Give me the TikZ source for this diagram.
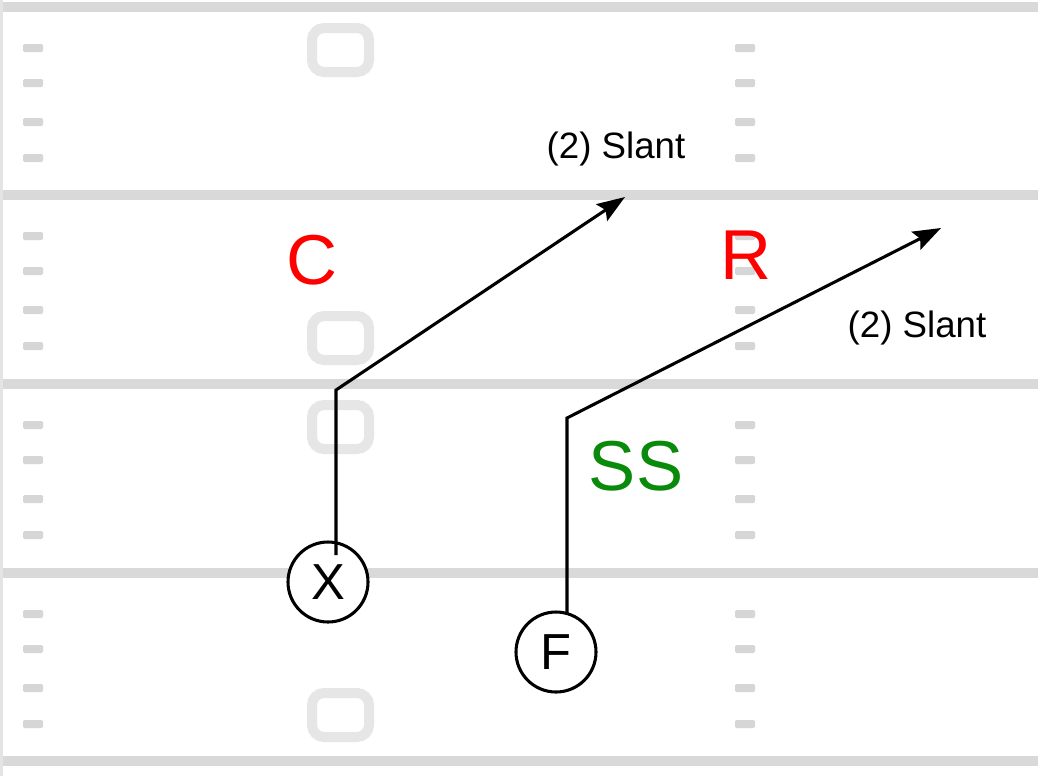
\documentclass[tikz,border=0pt]{standalone}
\usepackage{fontspec}
\setmainfont{Liberation Sans}
\usetikzlibrary{arrows.meta}
\definecolor{bandgray}{HTML}{D9D9D9}
\definecolor{numgray}{HTML}{E6E6E6}
\definecolor{markgray}{HTML}{D6D6D6}
\definecolor{ssgreen}{HTML}{0A8A0A}
\begin{document}
\begin{tikzpicture}[x=0.75pt,y=-0.75pt,
  band/.style={draw=bandgray,line width=7.5pt},
  numbox/.style={draw=numgray,line width=7.5pt,rounded corners=9pt},
  hashmark/.style={fill=markgray,rounded corners=1pt},
  player/.style={circle,draw=black,line width=2.3pt,fill=white,minimum size=60pt,inner sep=0pt,font=\fontsize{38}{38}\selectfont},
  defender/.style={font=\fontsize{53}{53}\selectfont},
  routelabel/.style={font=\fontsize{27.5}{27.5}\selectfont,text=black},
  route/.style={draw=black,line width=2.3pt,line join=miter,-{Stealth[length=21pt,width=15pt,inset=3.5pt]}}]
\useasboundingbox (0,0) rectangle (1038,776);
\fill[white] (0,0) rectangle (1038,776);
% left edge
\fill[bandgray!70] (0,0) rectangle (3,776);
% yard lines
\foreach \yy in {7,195,384,573,761} {
  \draw[band] (3,\yy) -- (1038,\yy);
}
% hash marks
\foreach \yy in {48,83,122,158,236,271,310,346,425,460,499,535,614,649,688,724} {
  \fill[hashmark] (23,\yy-4) rectangle (43,\yy+4);
  \fill[hashmark] (735,\yy-4) rectangle (755,\yy+4);
}
% yard numbers (zeros)
\foreach \yy in {50,338,427,715} {
  \draw[numbox] (312,\yy-22) rectangle (369,\yy+22);
}
% players
\node[player] (X) at (328,582) {X};
\node[player] (F) at (556,652) {F};
% defenders
\node[defender,text=red] (C) at (312,260) {C};
\node[defender,text=red] (R) at (746,255) {R};
\node[defender,text=ssgreen] (SS) at (636,466) {SS};
% route labels
\node[routelabel] (L1) at (616,149) {(2) Slant};
\node[routelabel] (L2) at (917,328) {(2) Slant};
% routes
\coordinate (xs) at (336,555);
\coordinate (xc) at (336,390);
\coordinate (xt) at (625,197);
\coordinate (fs) at (567,613);
\coordinate (fc) at (567,418);
\coordinate (ft) at (941,228);
\draw[route] (xs) -- (xc) -- (xt);
\draw[route] (fs) -- (fc) -- (ft);
\end{tikzpicture}
\end{document}
